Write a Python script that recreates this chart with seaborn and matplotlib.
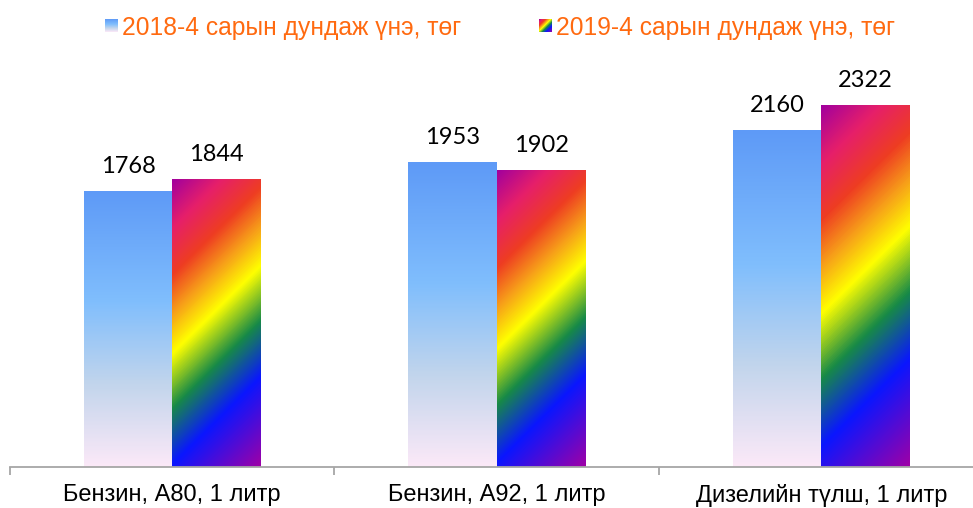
import numpy as np
import pandas as pd
import matplotlib
matplotlib.use("Agg")
import matplotlib.pyplot as plt
import seaborn as sns
from matplotlib.colors import LinearSegmentedColormap

# Average fuel prices, April 2018 vs April 2019 (MNT)
categories = ["Бензин, А80, 1 литр", "Бензин, А92, 1 литр", "Дизелийн түлш, 1 литр"]
series_names = ["2018-4 сарын дундаж үнэ, төг", "2019-4 сарын дундаж үнэ, төг"]
price_2018 = [1768, 1953, 2160]
price_2019 = [1844, 1902, 2322]

df = pd.DataFrame({
    "category": categories * 2,
    "series": [series_names[0]] * 3 + [series_names[1]] * 3,
    "price": price_2018 + price_2019,
})

sns.set_theme(style="white")
plt.rcParams["font.family"] = ["Liberation Sans", "DejaVu Sans"]

W, H, DPI = 973, 508, 100
fig = plt.figure(figsize=(W / DPI, H / DPI), dpi=DPI)
ax = fig.add_axes([10 / W, 41 / H, 973.5 / W, 417 / H])

sns.barplot(data=df, x="category", y="price", hue="series",
            order=categories, hue_order=series_names,
            width=0.545, gap=0, palette=["#7db5fb", "#ffd000"],
            saturation=1, errorbar=None, linewidth=0, legend=False, ax=ax)

blue_cmap = LinearSegmentedColormap.from_list(
    "sky", [(0, "#5E9AF7"), (0.4, "#80BEFD"), (0.7, "#C2D5EC"), (1, "#FCE9F8")])
rainbow_cmap = LinearSegmentedColormap.from_list(
    "spectrum", [(0, "#A1009E"), (0.13, "#E61F6A"), (0.255, "#EE3D22"),
                 (0.36, "#F7A019"), (0.465, "#FFFF00"), (0.61, "#178A47"),
                 (0.76, "#0A16FF"), (1, "#A000A6")])


def gradient(cmap, nw, nh, kind):
    yy, xx = np.mgrid[0:nh, 0:nw]
    if kind == "v":
        t = (yy + 0.5) / nh
    else:
        t = (xx + yy + 1.0) / (nw + nh)
    return cmap(t)


ax.set_ylim(0, 2678)
ax.set_xlim(-0.5, 2.5)
fig.canvas.draw()

for container, cmap, kind, values in zip(ax.containers, [blue_cmap, rainbow_cmap],
                                         ["v", "d"], [price_2018, price_2019]):
    for bar, value in zip(container, values):
        x0, y0 = bar.get_x(), bar.get_y()
        w, h = bar.get_width(), bar.get_height()
        (px0, py0), (px1, py1) = ax.transData.transform([(x0, y0), (x0 + w, y0 + h)])
        nw = max(int(round(px1 - px0)), 1)
        nh = max(int(round(py1 - py0)), 1)
        ax.imshow(gradient(cmap, nw, nh, kind), extent=(x0, x0 + w, y0, y0 + h),
                  origin="upper", aspect="auto", interpolation="bilinear",
                  zorder=bar.get_zorder() + 0.1)
        bar.set_alpha(0)
        ax.annotate(f"{value}", (x0 + w / 2, value), xytext=(0, 18),
                    textcoords="offset points", ha="center", va="center",
                    fontsize=17, family=["Lato", "DejaVu Sans"], color="black")

ax.set_ylim(0, 2678)
ax.set_xlim(-0.5, 2.5)

for side in ["left", "right", "top"]:
    ax.spines[side].set_visible(False)
ax.spines["bottom"].set_color("#A6A6A6")
ax.spines["bottom"].set_linewidth(1.3)
ax.set_yticks([])
ax.set_xticks([0, 1, 2], categories)
ax.set_xticks([-0.5, 0.5, 1.5, 2.5], minor=True)
ax.tick_params(axis="x", which="major", length=0, pad=12.5, labelsize=17, labelcolor="black")
ax.tick_params(axis="x", which="minor", bottom=True, length=6, width=1.3,
               color="#A6A6A6", direction="out")
ax.set_xlabel("")
ax.set_ylabel("")

# Legend: gradient swatches with orange captions
legend_items = [(105, 122, blue_cmap, "v", series_names[0]),
                (539, 556, rainbow_cmap, "d", series_names[1])]
for sx, tx, cmap, kind, label in legend_items:
    sw = fig.add_axes([sx / W, 1 - 32 / H, 13 / W, 13 / H])
    sw.imshow(gradient(cmap, 13, 13, kind), aspect="auto", interpolation="bilinear")
    sw.set_axis_off()
    fig.text(tx / W, 1 - 35 / H, label, color="#FF6A10", fontsize=17.7,
             ha="left", va="baseline")

fig.savefig("out.png", dpi=DPI)
